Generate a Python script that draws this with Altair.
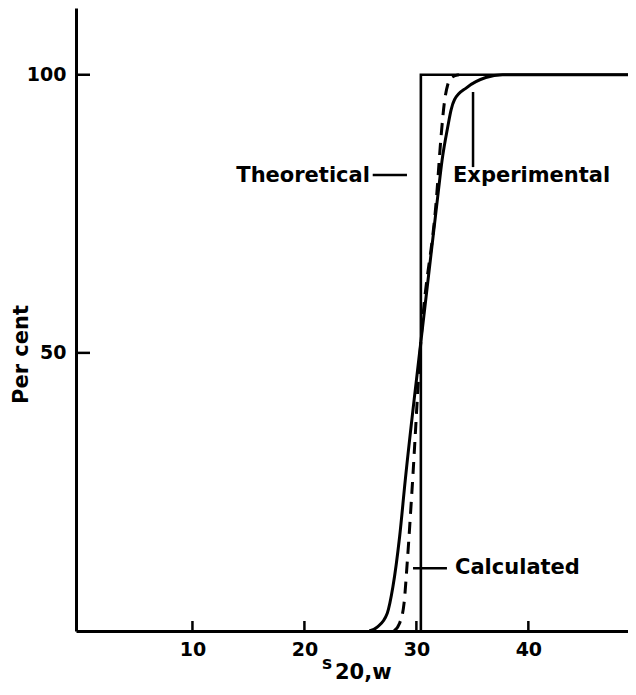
import altair as alt
import pandas as pd

# ---- data ----
exp_x = [25.8, 26.5, 27.4, 27.9, 28.5, 29.0, 30.4, 31.9, 32.3, 32.8, 33.1, 33.4, 34.5, 36.2, 37.7, 48.9]
exp_y = [0, 0.7, 3.2, 7.9, 16.9, 27, 52, 78, 84.7, 90.6, 93.7, 95.5, 97.7, 99.5, 100, 100]
calc_x = [28.0, 28.5, 28.9, 29.2, 29.6, 30.4, 31.8, 32.2, 32.5, 32.8, 33.2, 33.8]
calc_y = [0, 1.4, 5, 12.8, 25, 52, 78, 88.8, 95, 98.2, 99.6, 100]
theo_x = [30.4, 30.4, 48.9]
theo_y = [0, 100, 100]

x_ticks = [10, 20, 30, 40]
y_ticks = [50, 100]

labels = ["Theoretical", "Experimental", "Calculated"]
label_x = [25.85, 33.27, 33.45]
label_y = [81.8, 81.8, 11.3]
label_align = ["right", "left", "left"]

leader_x = [26.1, 35.06, 29.7]
leader_x2 = [29.16, 35.06, 32.73]
leader_y = [82.0, 96.9, 11.3]
leader_y2 = [82.0, 83.4, 11.3]

W, H = 552, 623
FONT = "DejaVu Sans"

xs = alt.Scale(domain=[-0.4, 48.9], nice=False, zero=False)
ys = alt.Scale(domain=[0, 112], nice=False, zero=False)

x_axis = alt.Axis(values=x_ticks, ticks=False, grid=False, domain=True, domainColor="black",
                  domainWidth=3, labelFont=FONT, labelFontSize=19, labelFontWeight="bold",
                  labelColor="black", labelPadding=9, title=None)
y_axis = alt.Axis(values=y_ticks, ticks=False, grid=False, domain=True, domainColor="black",
                  domainWidth=3, labelFont=FONT, labelFontSize=19, labelFontWeight="bold",
                  labelColor="black", labelPadding=10, title="Per cent",
                  titleFont=FONT, titleFontSize=21, titleFontWeight="bold", titleColor="black",
                  titleAngle=270, titleX=-55, titleY=346, titleAlign="center",
                  titleBaseline="middle")


def X(f):
    return alt.X(f, type="quantitative", scale=xs, axis=x_axis)


def Y(f):
    return alt.Y(f, type="quantitative", scale=ys, axis=y_axis)


exp_df = pd.DataFrame({"x": exp_x, "y": exp_y, "o": list(range(len(exp_x)))})
calc_df = pd.DataFrame({"x": calc_x, "y": calc_y, "o": list(range(len(calc_x)))})
theo_df = pd.DataFrame({"x": theo_x, "y": theo_y, "o": list(range(len(theo_x)))})

theo = alt.Chart(theo_df).mark_line(color="black", strokeWidth=2.6, clip=True).encode(
    x=X("x"), y=Y("y"), order="o:Q")
exp = alt.Chart(exp_df).mark_line(color="black", strokeWidth=3, interpolate="monotone", clip=True).encode(
    x=X("x"), y=Y("y"), order="o:Q")
calc = alt.Chart(calc_df).mark_line(color="black", strokeWidth=3, strokeDash=[12, 8],
                                    interpolate="monotone", clip=True).encode(
    x=X("x"), y=Y("y"), order="o:Q")

lead_df = pd.DataFrame({"x": leader_x, "x2": leader_x2, "y": leader_y, "y2": leader_y2})
leaders = alt.Chart(lead_df).mark_rule(color="black", strokeWidth=2.5).encode(
    x=X("x"), x2="x2:Q", y=Y("y"), y2="y2:Q")

lab_df = pd.DataFrame({"t": labels, "x": label_x, "y": label_y, "a": label_align})
text_layers = []
for al in ["left", "right"]:
    text_layers.append(
        alt.Chart(lab_df).transform_filter(alt.datum.a == al).mark_text(
            align=al, baseline="middle", font=FONT, fontSize=21, fontWeight="bold", color="black"
        ).encode(x=X("x"), y=Y("y"), text="t:N")
    )

ytick_df = pd.DataFrame({"v": y_ticks})
yticks = alt.Chart(ytick_df).mark_rule(color="black", strokeWidth=2.5).encode(
    y=Y("v"), x=alt.value(0), x2=alt.value(14))
xtick_df = pd.DataFrame({"v": x_ticks})
xticks = alt.Chart(xtick_df).mark_rule(color="black", strokeWidth=2.5).encode(
    x=X("v"), y=alt.value(H), y2=alt.value(H - 10))

s_df = pd.DataFrame({"t": ["s"]})
sub_df = pd.DataFrame({"t": ["20,w"]})
xt1 = alt.Chart(s_df).mark_text(align="center", baseline="middle", font=FONT, fontSize=17,
                                fontWeight="bold", color="black").encode(
    text="t:N", x=alt.value(251), y=alt.value(656))
xt2 = alt.Chart(sub_df).mark_text(align="left", baseline="middle", font=FONT, fontSize=21,
                                  fontWeight="bold", color="black").encode(
    text="t:N", x=alt.value(259), y=alt.value(665))

chart = alt.layer(theo, exp, calc, leaders, *text_layers, yticks, xticks, xt1, xt2).properties(
    width=W, height=H,
    padding={"left": 68, "top": 0, "right": 0, "bottom": 56},
    autosize=alt.AutoSizeParams(type="none"),
    background="white",
).configure_view(stroke=None)

chart.save("out.html", embed_options={"renderer": "svg", "actions": False})
